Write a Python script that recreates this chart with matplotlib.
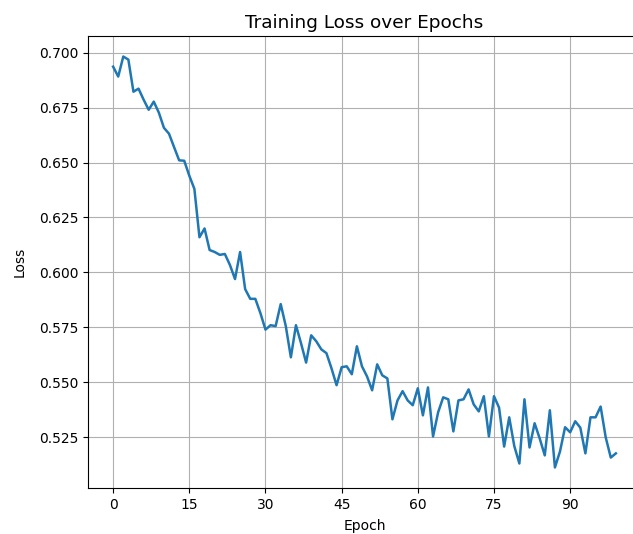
import matplotlib
matplotlib.use("Agg")
import matplotlib.pyplot as plt

epochs = list(range(100))
loss = [
    0.6936, 0.6891, 0.6982, 0.6968, 0.6822, 0.6836, 0.6786, 0.6740, 0.6777, 0.6727,
    0.6658, 0.6631, 0.6570, 0.6510, 0.6508, 0.6440, 0.6380, 0.6160, 0.6200, 0.6102,
    0.6093, 0.6080, 0.6084, 0.6034, 0.5970, 0.6093, 0.5924, 0.5880, 0.5880, 0.5815,
    0.5740, 0.5760, 0.5756, 0.5856, 0.5756, 0.5614, 0.5760, 0.5678, 0.5590, 0.5714,
    0.5687, 0.5650, 0.5633, 0.5564, 0.5487, 0.5569, 0.5573, 0.5537, 0.5664, 0.5573,
    0.5527, 0.5464, 0.5582, 0.5532, 0.5518, 0.5332, 0.5418, 0.5460, 0.5418, 0.5396,
    0.5473, 0.5350, 0.5477, 0.5254, 0.5364, 0.5432, 0.5423, 0.5277, 0.5418, 0.5423,
    0.5468, 0.5400, 0.5368, 0.5437, 0.5254, 0.5437, 0.5385, 0.5208, 0.5341, 0.5210,
    0.5131, 0.5423, 0.5204, 0.5314, 0.5245, 0.5168, 0.5373, 0.5113, 0.5186, 0.5296,
    0.5273, 0.5323, 0.5294, 0.5177, 0.5341, 0.5341, 0.5390, 0.5250, 0.5158, 0.5177,
]
xticks = [0, 15, 30, 45, 60, 75, 90]

fig = plt.figure(figsize=(6.33, 5.34), dpi=100)
ax = fig.add_axes([88 / 633, 46 / 534, 553 / 633, 452 / 534])
ax.plot(epochs, loss, color="#1f77b4", linewidth=1.8)
ax.set_xticks(xticks)
ax.grid(True)
ax.set_title("Training Loss over Epochs", fontsize=13.3)
ax.set_xlabel("Epoch", labelpad=5.5)
ax.set_ylabel("Loss", labelpad=8.5)
fig.savefig("out.png", dpi=100)
